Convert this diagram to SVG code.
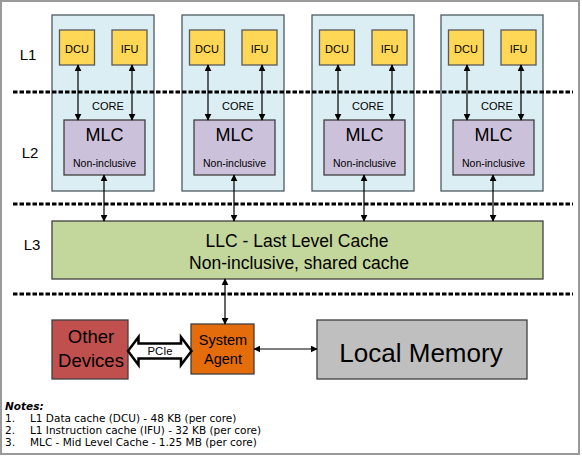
<svg xmlns="http://www.w3.org/2000/svg" width="582" height="456" viewBox="0 0 582 456">
<defs>
<style>
.t{font-family:"Liberation Sans",Arial,sans-serif;fill:#000;text-anchor:middle}
.n{font-family:"DejaVu Sans",Verdana,sans-serif;font-size:10.5px;fill:#000}
.core{fill:#dbeef3;stroke:#4d5b60;stroke-width:1.3}
.y{fill:#ffd757;stroke:#595959;stroke-width:1.3}
.mlc{fill:#ccc1da;stroke:#3f3f3f;stroke-width:1.3}
.dot{stroke:#000;stroke-width:3.2;stroke-dasharray:4.5 2;fill:none}
.c{stroke:#000;stroke-width:1.2;fill:none;marker-start:url(#a);marker-end:url(#a)}
</style>
<marker id="a" viewBox="0 0 10 10" refX="9" refY="5" markerWidth="7" markerHeight="7" markerUnits="userSpaceOnUse" orient="auto-start-reverse">
<path d="M0,0 L10,5 L0,10 z" fill="#000"/>
</marker>
<g id="coreT">
<rect class="core" x="0" y="15" width="102" height="176"/>
<rect class="y" x="7.5" y="30" width="35" height="35"/>
<text class="t" x="25" y="52.5" font-size="11">DCU</text>
<rect class="y" x="60" y="30" width="35" height="35"/>
<text class="t" x="77.5" y="52.5" font-size="11">IFU</text>
<text class="t" x="56" y="110" font-size="11">CORE</text>
<rect class="mlc" x="12" y="120" width="81" height="55"/>
<text class="t" x="52.5" y="141" font-size="18">MLC</text>
<text class="t" x="52.5" y="167" font-size="10.5">Non-inclusive</text>
</g>
</defs>
<rect x="1" y="1" width="578" height="453" fill="#fff" stroke="#999" stroke-width="2"/>
<g id="levels">
<text class="t" x="28" y="60" font-size="15">L1</text>
<text class="t" x="30" y="158" font-size="15">L2</text>
<text class="t" x="32" y="250" font-size="15">L3</text>
</g>
<g id="core1"><use href="#coreT" x="52"/></g>
<g id="core2"><use href="#coreT" x="182"/></g>
<g id="core3"><use href="#coreT" x="312"/></g>
<g id="core4"><use href="#coreT" x="441"/></g>
<g id="llc">
<rect x="52" y="221" width="491" height="58" fill="#c3d69b" stroke="#3f3f3f" stroke-width="1.3"/>
<text class="t" x="297" y="246.5" font-size="17.5">LLC - Last Level Cache</text>
<text class="t" x="299" y="268.5" font-size="17.5">Non-inclusive, shared cache</text>
</g>
<g id="other">
<rect x="52" y="320" width="76" height="59" fill="#c0504d" stroke="#3f3f3f" stroke-width="1.3"/>
<text class="t" x="91" y="343" font-size="18.5">Other</text>
<text class="t" x="91" y="367" font-size="18.5">Devices</text>
</g>
<g id="agent">
<rect x="191" y="324" width="63" height="50" fill="#e46c0a" stroke="#3f3f3f" stroke-width="1.3"/>
<text class="t" x="223" y="345" font-size="14.5">System</text>
<text class="t" x="223" y="364" font-size="14.5">Agent</text>
</g>
<g id="memory">
<rect x="317" y="320" width="210" height="59" fill="#bfbfbf" stroke="#3f3f3f" stroke-width="1.3"/>
<text class="t" x="421" y="362" font-size="26">Local Memory</text>
</g>
<g id="dividers">
<line class="dot" x1="13" y1="92" x2="573" y2="92"/>
<line class="dot" x1="13" y1="204" x2="573" y2="204"/>
<line class="dot" x1="13" y1="294" x2="573" y2="294"/>
</g>
<g id="connectors">
<line class="c" x1="78" y1="65" x2="78" y2="120"/>
<line class="c" x1="132" y1="65" x2="132" y2="120"/>
<line class="c" x1="208" y1="65" x2="208" y2="120"/>
<line class="c" x1="262" y1="65" x2="262" y2="120"/>
<line class="c" x1="338" y1="65" x2="338" y2="120"/>
<line class="c" x1="392" y1="65" x2="392" y2="120"/>
<line class="c" x1="467" y1="65" x2="467" y2="120"/>
<line class="c" x1="521" y1="65" x2="521" y2="120"/>
<line class="c" x1="104" y1="175" x2="104" y2="221"/>
<line class="c" x1="234" y1="175" x2="234" y2="221"/>
<line class="c" x1="364" y1="175" x2="364" y2="221"/>
<line class="c" x1="493" y1="175" x2="493" y2="221"/>
<line class="c" x1="225" y1="279" x2="225" y2="324"/>
<line class="c" x1="254" y1="349" x2="317" y2="349"/>
<g id="pcie">
<polygon points="128,351 138.5,337 138.5,343.5 181,343.5 181,337 191.5,351 181,365 181,358.5 138.5,358.5 138.5,365" fill="#fff" stroke="#000" stroke-width="2.5" stroke-linejoin="miter"/>
<text class="t" x="160" y="355" font-size="11.3">PCIe</text>
</g>
</g>
<g id="notes">
<text class="n" x="5" y="410" font-weight="bold" font-style="italic">Notes:</text>
<text class="n" x="5" y="422">1.</text><text class="n" x="30" y="422">L1 Data cache (DCU) - 48 KB (per core)</text>
<text class="n" x="5" y="434">2.</text><text class="n" x="30" y="434">L1 Instruction cache (IFU) - 32 KB (per core)</text>
<text class="n" x="5" y="446">3.</text><text class="n" x="30" y="446">MLC - Mid Level Cache - 1.25 MB (per core)</text>
</g>
</svg>
